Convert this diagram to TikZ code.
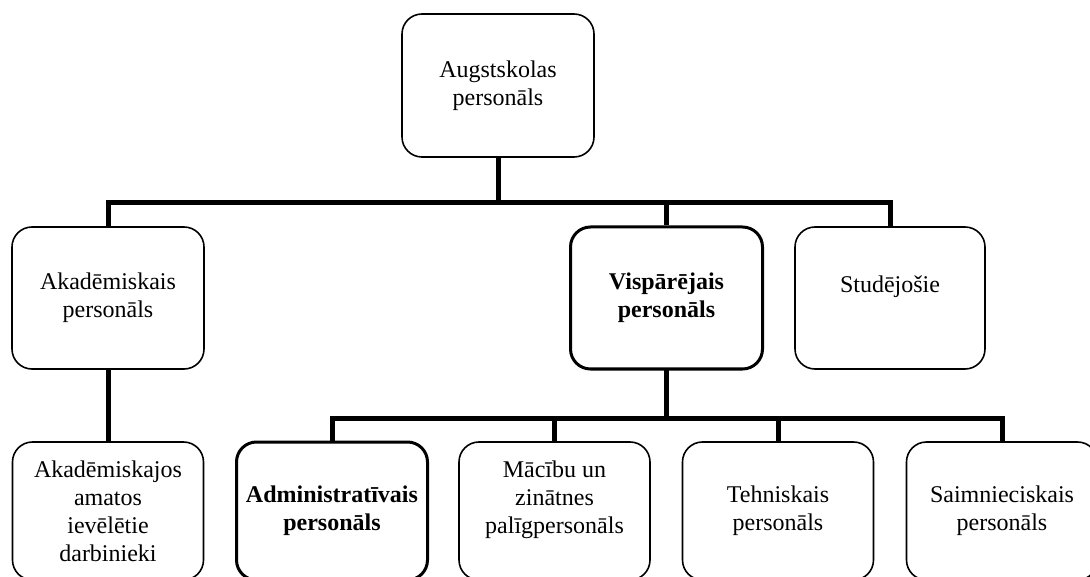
\documentclass[tikz,border=0pt]{standalone}
\usepackage{fontspec}
\setmainfont{Liberation Serif}
\begin{document}
\begin{tikzpicture}[x=1pt,y=-1pt,
  box/.style={draw, line width=1.6pt, rounded corners=20pt, align=center,
    inner sep=2pt, font=\fontsize{24}{28}\selectfont},
  keybox/.style={box, line width=3pt, font=\fontsize{24}{28}\selectfont\bfseries},
  upper/.style={minimum width=192pt, minimum height=142pt},
  lower/.style={minimum width=191pt, minimum height=138pt},
  bus/.style={line width=5pt, line join=miter}]
\useasboundingbox (0,0) rectangle (1090,577);

% top level
\node[box, upper, minimum height=143pt] (top) at (498,85.5) {Augstskolas\\personāls};

% second level
\node[box, upper]    (akad) at (108,298)   {Akadēmiskais\\personāls};
\node[keybox, upper] (visp) at (666.5,298) {Vispārējais\\personāls};
\node[box, upper, minimum width=190pt] (stud) at (890,298) {Studējošie\\~};

% third level
\node[box, lower]    (darb) at (108,511)  {Akadēmiskajos\\amatos\\ievēlētie\\darbinieki};
\node[keybox, lower] (admin) at (332,511) {Administratīvais\\personāls};
\node[box, lower]    (macib) at (554.5,511) {Mācību un\\zinātnes\\palīgpersonāls\\~};
\node[box, lower]    (tehn) at (778,511)  {Tehniskais\\personāls};
\node[box, lower]    (saimn) at (1002,511) {Saimnieciskais\\personāls};

% connectors
\draw[bus] (top.south) -- ++(0,45) -| (akad.north);
\draw[bus] (top.south) -- ++(0,45) -| (visp.north);
\draw[bus] (top.south) -- ++(0,45) -| (stud.north);
\draw[bus] (akad.south) -- (darb.north);
\draw[bus] (visp.south) -- ++(0,48) -| (admin.north);
\draw[bus] (visp.south) -- ++(0,48) -| (macib.north);
\draw[bus] (visp.south) -- ++(0,48) -| (tehn.north);
\draw[bus] (visp.south) -- ++(0,48) -| (saimn.north);
\end{tikzpicture}
\end{document}
